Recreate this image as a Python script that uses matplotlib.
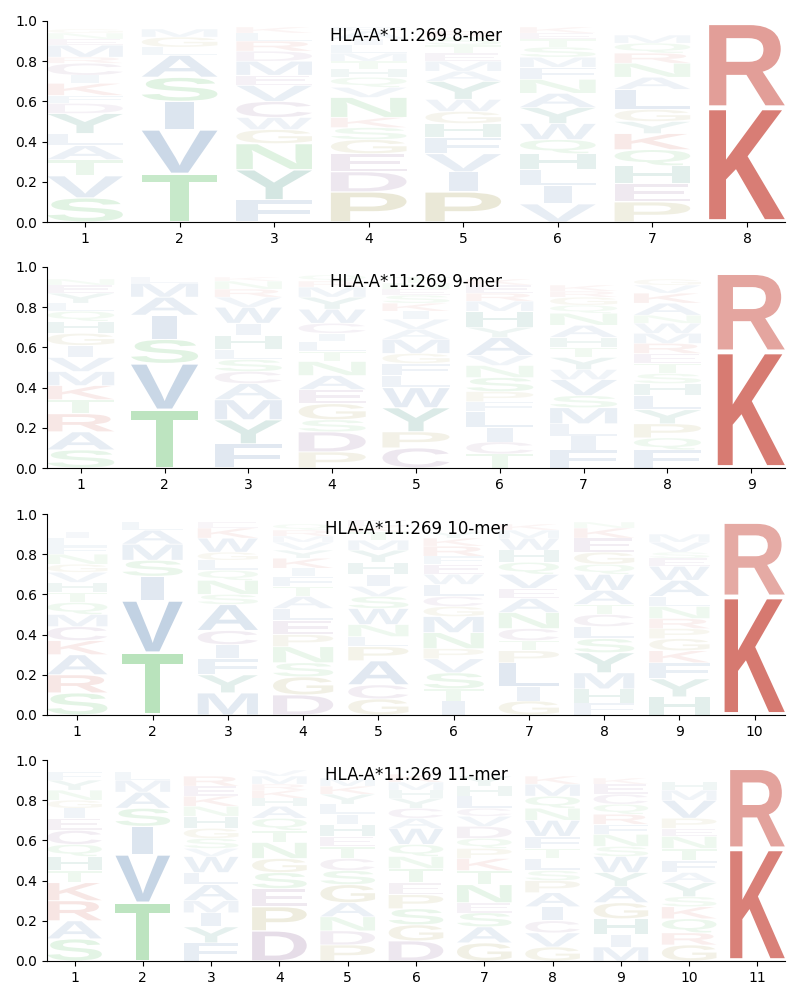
import matplotlib
matplotlib.use("Agg")
import matplotlib.pyplot as plt
from matplotlib.textpath import TextPath
from matplotlib.patches import PathPatch
from matplotlib.font_manager import FontProperties
from matplotlib.transforms import Affine2D

# letter frequencies per position, listed bottom -> top
MER8 = [
    [('S', .12), ('V', .11), ('T', .08), ('A', .07), ('L', .06), ('Y', .10), ('D', .05), ('F', .04),
     ('K', .06), ('I', .04), ('C', .06), ('R', .03), ('M', .06), ('E', .03), ('N', .03), ('G', .02)],
    [('T', .24), ('V', .22), ('I', .14), ('S', .12), ('A', .11), ('L', .04), ('G', .05), ('M', .04)],
    [('F', .11), ('Y', .15), ('N', .13), ('G', .07), ('W', .06), ('C', .08), ('V', .08), ('E', .05),
     ('M', .07), ('D', .05), ('R', .05), ('L', .04), ('K', .03)],
    [('P', .15), ('D', .10), ('E', .09), ('G', .07), ('S', .06), ('K', .05), ('N', .10), ('V', .05),
     ('Q', .05), ('H', .04), ('T', .04), ('M', .04), ('L', .04), ('I', .03), ('A', .04), ('F', .02)],
    [('P', .15), ('I', .10), ('V', .09), ('F', .08), ('H', .07), ('G', .06), ('W', .06), ('Y', .09),
     ('A', .05), ('M', .05), ('E', .04), ('T', .04), ('S', .04), ('R', .03)],
    [('V', .09), ('I', .09), ('L', .08), ('H', .08), ('Q', .07), ('W', .08), ('Y', .08), ('A', .07),
     ('N', .07), ('F', .06), ('M', .05), ('S', .05), ('T', .04), ('E', .03), ('K', .03)],
    [('P', .10), ('E', .09), ('H', .09), ('Q', .08), ('K', .08), ('Y', .06), ('G', .06), ('L', .10),
     ('A', .06), ('N', .07), ('R', .05), ('Q', .05), ('M', .04)],
    [('K', .57), ('R', .42)],
]

MER9 = [
    [('S', .09), ('A', .09), ('R', .09), ('T', .07), ('K', .07), ('M', .07), ('V', .07), ('I', .06),
     ('G', .06), ('H', .06), ('Q', .05), ('L', .04), ('Y', .05), ('E', .04), ('N', .03)],
    [('T', .29), ('V', .23), ('S', .12), ('I', .12), ('A', .09), ('M', .07), ('L', .03)],
    [('F', .12), ('Y', .12), ('M', .10), ('A', .08), ('C', .06), ('S', .06), ('L', .05), ('H', .07),
     ('I', .06), ('W', .08), ('V', .05), ('R', .04), ('N', .04), ('K', .02)],
    [('P', .08), ('D', .10), ('S', .06), ('G', .08), ('E', .07), ('A', .07), ('N', .07), ('T', .05),
     ('L', .05), ('I', .04), ('C', .05), ('W', .07), ('Y', .06), ('M', .05), ('R', .03), ('Q', .03)],
    [('C', .10), ('P', .08), ('Y', .12), ('W', .10), ('L', .06), ('F', .06), ('G', .05), ('M', .07),
     ('A', .05), ('V', .05), ('I', .04), ('K', .04), ('S', .04), ('E', .03), ('N', .03), ('T', .03)],
    [('T', .07), ('C', .06), ('I', .07), ('L', .08), ('F', .05), ('P', .05), ('S', .07), ('N', .06),
     ('V', .05), ('A', .09), ('Y', .05), ('H', .08), ('M', .05), ('R', .04), ('E', .04), ('K', .03)],
    [('F', .09), ('I', .07), ('L', .06), ('M', .08), ('S', .06), ('V', .08), ('W', .05), ('Y', .06),
     ('T', .05), ('H', .05), ('A', .06), ('N', .06), ('Q', .04), ('G', .04), ('R', .03), ('K', .03)],
    [('F', .09), ('Q', .06), ('P', .07), ('Y', .07), ('L', .07), ('H', .06), ('S', .05), ('T', .05),
     ('E', .05), ('R', .05), ('M', .05), ('W', .05), ('N', .04), ('A', .06), ('K', .05), ('V', .04),
     ('G', .03)],
    [('K', .58), ('R', .39)],
]

MER10 = [
    [('S', .11), ('R', .09), ('A', .10), ('K', .07), ('C', .07), ('M', .06), ('Q', .06), ('T', .05),
     ('H', .05), ('V', .05), ('G', .04), ('N', .05), ('F', .04), ('L', .04), ('I', .03)],
    [('T', .31), ('V', .26), ('I', .12), ('S', .08), ('M', .08), ('A', .07), ('L', .04)],
    [('M', .11), ('Y', .09), ('F', .08), ('I', .07), ('C', .07), ('A', .13), ('S', .05), ('N', .07),
     ('Q', .05), ('L', .05), ('G', .04), ('W', .07), ('K', .05), ('E', .03)],
    [('D', .10), ('G', .09), ('S', .07), ('N', .08), ('P', .06), ('E', .07), ('L', .06), ('A', .06),
     ('T', .05), ('F', .05), ('I', .04), ('K', .05), ('Y', .04), ('V', .04), ('M', .03), ('R', .03),
     ('Q', .03)],
    [('G', .08), ('C', .07), ('A', .12), ('P', .07), ('L', .05), ('N', .06), ('W', .08), ('S', .06),
     ('V', .05), ('I', .06), ('H', .06), ('Y', .06), ('M', .05), ('T', .04), ('K', .03), ('E', .03)],
    [('I', .07), ('T', .06), ('S', .08), ('V', .07), ('P', .05), ('N', .08), ('M', .08), ('G', .05),
     ('C', .05), ('L', .06), ('W', .05), ('E', .05), ('F', .04), ('R', .05), ('K', .04), ('Y', .03)],
    [('G', .07), ('I', .07), ('L', .12), ('P', .06), ('T', .05), ('C', .06), ('N', .08), ('A', .07),
     ('E', .05), ('V', .07), ('Q', .06), ('H', .06), ('W', .06), ('M', .04), ('K', .03)],
    [('F', .06), ('H', .07), ('M', .08), ('Y', .10), ('S', .07), ('L', .06), ('C', .06), ('T', .05),
     ('A', .07), ('W', .08), ('Q', .05), ('G', .06), ('E', .07), ('K', .05), ('N', .03)],
    [('H', .09), ('Y', .09), ('F', .08), ('K', .06), ('G', .06), ('P', .05), ('R', .05), ('N', .06),
     ('L', .05), ('A', .08), ('W', .07), ('E', .04), ('S', .03), ('V', .05), ('M', .04)],
    [('K', .59), ('R', .37)],
]

MER11 = [
    [('S', .11), ('A', .09), ('R', .10), ('K', .09), ('T', .06), ('H', .07), ('Q', .06), ('C', .07),
     ('E', .06), ('I', .05), ('G', .04), ('N', .05), ('Y', .05), ('F', .04)],
    [('T', .29), ('V', .24), ('I', .14), ('S', .09), ('A', .08), ('M', .06), ('L', .04)],
    [('F', .09), ('Y', .08), ('I', .07), ('M', .06), ('A', .08), ('L', .06), ('W', .08), ('V', .04),
     ('S', .05), ('G', .05), ('H', .06), ('N', .05), ('K', .05), ('E', .05), ('R', .05)],
    [('D', .15), ('P', .12), ('E', .09), ('S', .08), ('G', .07), ('N', .08), ('T', .06), ('Q', .06),
     ('A', .06), ('H', .04), ('K', .04), ('R', .03), ('M', .04), ('V', .03)],
    [('P', .08), ('D', .07), ('N', .07), ('A', .07), ('G', .09), ('S', .07), ('C', .06), ('T', .06),
     ('E', .05), ('H', .06), ('I', .05), ('L', .05), ('Y', .05), ('K', .04), ('M', .04)],
    [('D', .10), ('G', .08), ('S', .08), ('P', .07), ('E', .06), ('T', .07), ('N', .06), ('Q', .06),
     ('W', .08), ('A', .05), ('C', .05), ('Y', .05), ('H', .04), ('M', .04), ('K', .04)],
    [('G', .09), ('A', .08), ('S', .07), ('E', .05), ('N', .09), ('T', .07), ('K', .06), ('P', .05),
     ('Q', .05), ('D', .06), ('V', .05), ('C', .04), ('L', .06), ('H', .05), ('Y', .05)],
    [('G', .07), ('V', .07), ('C', .06), ('I', .07), ('A', .07), ('P', .06), ('S', .05), ('L', .06),
     ('T', .05), ('F', .06), ('W', .08), ('N', .06), ('Q', .06), ('M', .06), ('K', .04)],
    [('M', .07), ('I', .06), ('H', .08), ('G', .08), ('A', .08), ('Y', .07), ('W', .08), ('S', .05),
     ('N', .06), ('F', .05), ('R', .05), ('Q', .05), ('C', .05), ('E', .05), ('K', .03)],
    [('G', .08), ('R', .06), ('Q', .07), ('K', .06), ('S', .05), ('Y', .07), ('A', .05), ('F', .06),
     ('T', .06), ('N', .06), ('E', .04), ('P', .05), ('V', .09), ('M', .05), ('H', .04)],
    [('K', .56), ('R', .40)],
]

TITLES = ['HLA-A*11:269 8-mer', 'HLA-A*11:269 9-mer', 'HLA-A*11:269 10-mer', 'HLA-A*11:269 11-mer']

# residue colour groups
COLORS = {}
for aa in 'AVILMFW':
    COLORS[aa] = '#4978ac'
for aa in 'STNQ':
    COLORS[aa] = '#4db856'
for aa in 'RK':
    COLORS[aa] = '#c8473b'
for aa in 'DEC':
    COLORS[aa] = '#86598f'
for aa in 'PG':
    COLORS[aa] = '#9a8f38'
for aa in 'HY':
    COLORS[aa] = '#2a856f'

FONT = FontProperties(family='Liberation Sans', weight='bold')
WIDTH = 0.8
VPAD = 0.05
MIN_GLYPH_W = 0.38  # narrow glyphs (I) are not stretched to full width


def draw_letter(ax, ch, x, y0, h):
    tp = TextPath((0, 0), ch, size=1, prop=FONT)
    bb = tp.get_extents()
    w = WIDTH * min(1.0, bb.width / MIN_GLYPH_W)
    hh = h * (1 - VPAD)
    tr = (Affine2D()
          .translate(-bb.x0, -bb.y0)
          .scale(w / bb.width, hh / bb.height)
          .translate(x - w / 2, y0 + h * VPAD / 2))
    alpha = min(1.0, 0.02 + 1.2 * h)
    ax.add_patch(PathPatch(tr.transform_path(tp), fc=COLORS[ch], ec='none',
                           alpha=alpha, lw=0))


def draw_logo(ax, columns, title):
    for i, col in enumerate(columns, start=1):
        y = 0.0
        for ch, h in col:
            draw_letter(ax, ch, i, y, h)
            y += h
    n = len(columns)
    ax.set_xlim(0.6, n + 0.4)
    ax.set_ylim(0, 1)
    ax.set_xticks(range(1, n + 1))
    ax.set_yticks([0, 0.2, 0.4, 0.6, 0.8, 1.0])
    ax.spines['top'].set_visible(False)
    ax.spines['right'].set_visible(False)
    ax.text(0.5, 0.925, title, transform=ax.transAxes, ha='center', va='center', fontsize=12)


fig = plt.figure(figsize=(8, 10), dpi=100)
bottoms = [0.778, 0.532, 0.285, 0.039]
for data, title, b in zip([MER8, MER9, MER10, MER11], TITLES, bottoms):
    ax = fig.add_axes([0.059, b, 0.922, 0.201])
    draw_logo(ax, data, title)

fig.savefig('out.png', dpi=100)
